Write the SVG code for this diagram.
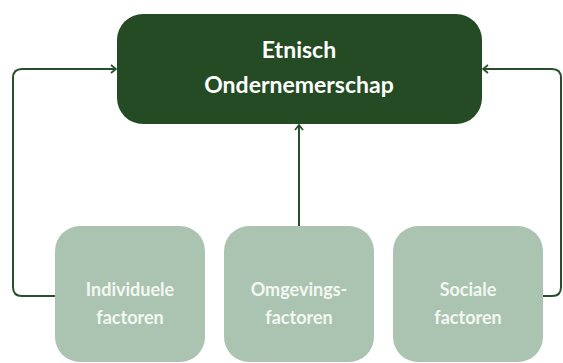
<svg xmlns="http://www.w3.org/2000/svg" width="563" height="363" viewBox="0 0 563 363">
<defs>
<marker id="arr" viewBox="0 0 10 10" refX="9" refY="5" markerWidth="10" markerHeight="10" markerUnits="userSpaceOnUse" orient="auto">
<path d="M4 1 L9 5 L4 9" fill="none" stroke="#26502a" stroke-width="1.8"/>
</marker>
<style>
.top{fill:#244b24}
.fac{fill:#abc4b1}
.t1{font-family:"Lato","Liberation Sans",sans-serif;font-weight:700;font-size:23px;fill:#ffffff;text-anchor:middle}
.t2{font-family:"Lato","Liberation Sans",sans-serif;font-weight:700;font-size:18px;fill:#f3f7f3;text-anchor:middle}
.con{fill:none;stroke:#26502a;stroke-width:2}
</style>
</defs>
<rect width="563" height="363" fill="#ffffff"/>
<g id="connectors">
<path class="con" d="M55 296 H22 Q13 296 13 287 V78 Q13 69 22 69 H116" marker-end="url(#arr)"/>
<path class="con" d="M543 296 H552 Q561 296 561 287 V78 Q561 69 552 69 H483" marker-end="url(#arr)"/>
<path class="con" d="M299 226 V125" marker-end="url(#arr)"/>
</g>
<g id="etnisch-ondernemerschap">
<rect class="top" x="117" y="14" width="365" height="110" rx="26"/>
<text class="t1" x="299" y="58">Etnisch</text>
<text class="t1" x="299" y="93">Ondernemerschap</text>
</g>
<g id="individuele-factoren">
<rect class="fac" x="55" y="226" width="150" height="136" rx="25"/>
<text class="t2" x="130" y="296">Individuele</text>
<text class="t2" x="130" y="324">factoren</text>
</g>
<g id="omgevingsfactoren">
<rect class="fac" x="224" y="226" width="150" height="136" rx="25"/>
<text class="t2" x="299" y="296">Omgevings-</text>
<text class="t2" x="299" y="324">factoren</text>
</g>
<g id="sociale-factoren">
<rect class="fac" x="393" y="226" width="150" height="136" rx="25"/>
<text class="t2" x="468" y="296">Sociale</text>
<text class="t2" x="468" y="324">factoren</text>
</g>
</svg>
